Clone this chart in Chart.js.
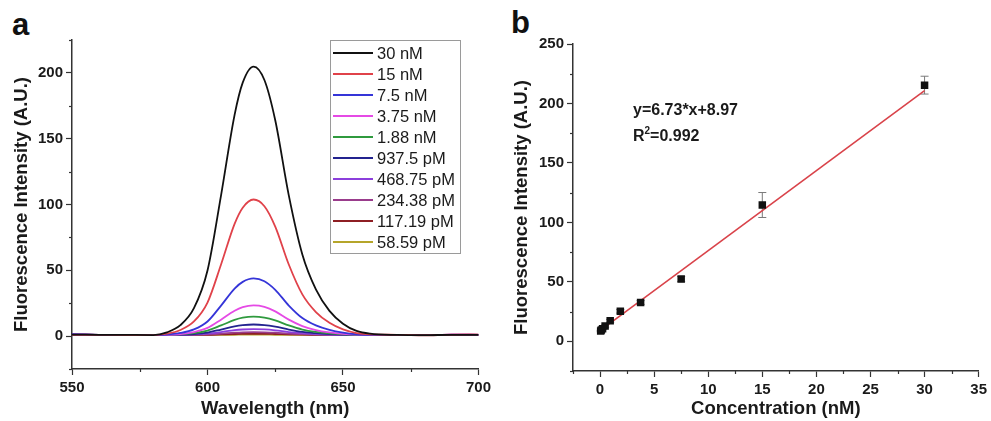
<!DOCTYPE html>
<html>
<head>
<meta charset="utf-8">
<script src="https://cdn.jsdelivr.net/npm/chart.js@4.4.0/dist/chart.umd.min.js"></script>
<style>
  body { margin: 0; background: #fff; width: 991px; height: 421px; position: relative; overflow: hidden;
         font-family: "Liberation Sans", Arial, sans-serif; }
  canvas { position: absolute; top: 0; }
  #chartA { left: 0; }
  #chartB { left: 495px; }
  .panel { position: absolute; font-weight: bold; font-size: 31px; line-height: 31px; color: #111; }
</style>
</head>
<body>
<div class="panel" style="left:12px;top:9px">a</div>
<div class="panel" style="left:511px;top:7px">b</div>
<canvas id="chartA" width="495" height="421"></canvas>
<canvas id="chartB" width="496" height="421"></canvas>
<script>
// ---- panel a: emission spectra ----
var wavelengths = [550, 560, 570, 580, 585, 590, 595, 600, 605, 610, 613, 617, 621, 625, 630, 635, 640, 645, 650, 655, 660, 670, 680, 690, 700];
var spec30nM   = [1.1, 1.0, 0.9, 0.8, 2.8, 8.3, 21.2, 49.8, 106.9, 168.1, 192.6, 204.8, 194.6, 164.0, 106.9, 62.0, 35.5, 19.2, 9.4, 3.9, 1.8, 0.9, 0.7, 1.0, 1.0];
var spec15nM   = [1.0, 0.9, 0.8, 0.8, 1.8, 4.6, 11.1, 25.5, 54.4, 85.3, 97.6, 103.8, 98.7, 83.2, 54.4, 31.7, 18.3, 10.1, 5.1, 2.3, 1.3, 1.0, 0.7, 1.0, 1.1];
var spec7_5nM  = [1.2, 1.0, 0.9, 0.8, 1.2, 2.4, 5.1, 11.1, 23.2, 36.1, 41.2, 43.8, 41.7, 35.2, 23.2, 13.7, 8.1, 4.7, 2.6, 1.4, 1.0, 0.8, 0.8, 1.0, 0.9];
var spec3_75nM = [1.1, 0.9, 0.9, 0.8, 1.0, 1.6, 3.1, 6.2, 12.5, 19.3, 22.0, 23.3, 22.2, 18.8, 12.5, 7.6, 4.6, 2.8, 1.7, 1.1, 0.9, 1.0, 0.7, 1.1, 1.0];
var spec1_88nM = [1.0, 0.9, 1.0, 0.8, 0.9, 1.3, 2.2, 4.2, 8.1, 12.3, 14.0, 14.8, 14.1, 12.0, 8.1, 5.0, 3.2, 2.1, 1.4, 1.0, 0.9, 0.9, 0.7, 1.0, 0.9];
var spec937pM  = [1.1, 1.0, 0.9, 0.8, 0.9, 1.1, 1.6, 2.7, 5.0, 7.4, 8.3, 8.8, 8.4, 7.2, 5.0, 3.2, 2.2, 1.5, 1.1, 0.9, 0.8, 0.8, 0.7, 1.0, 1.0];
var spec468pM  = [1.1, 0.9, 1.0, 0.8, 0.8, 1.0, 1.3, 1.9, 3.1, 4.5, 5.0, 5.3, 5.1, 4.4, 3.1, 2.2, 1.6, 1.2, 1.0, 0.9, 0.8, 0.9, 0.7, 1.0, 1.0];
var spec234pM  = [1.2, 1.0, 0.9, 0.8, 0.8, 0.9, 1.0, 1.3, 1.9, 2.6, 2.9, 3.0, 2.9, 2.6, 1.9, 1.5, 1.2, 1.0, 0.9, 0.8, 0.8, 1.0, 0.7, 1.1, 1.1];
var spec117pM  = [1.1, 1.0, 0.9, 0.8, 0.8, 0.8, 0.9, 1.0, 1.3, 1.6, 1.7, 1.8, 1.8, 1.6, 1.3, 1.1, 1.0, 0.9, 0.8, 0.8, 0.8, 0.9, 0.6, 1.1, 1.0];
var spec58pM   = [1.1, 0.9, 1.0, 0.8, 0.8, 0.8, 0.8, 0.9, 1.0, 1.0, 1.1, 1.1, 1.1, 1.0, 1.0, 0.9, 0.8, 0.8, 0.8, 0.8, 0.8, 1.0, 0.7, 1.0, 1.0];

var seriesLabels = ['30 nM', '15 nM', '7.5 nM', '3.75 nM', '1.88 nM', '937.5 pM', '468.75 pM', '234.38 pM', '117.19 pM', '58.59 pM'];
var seriesValues = [spec30nM, spec15nM, spec7_5nM, spec3_75nM, spec1_88nM, spec937pM, spec468pM, spec234pM, spec117pM, spec58pM];
var seriesColors = ['#111111', '#e0424a', '#3535d8', '#e54ae5', '#2f9a3e', '#23238f', '#8c3fdc', '#9a3c8c', '#8e1f24', '#b5a52a'];

var xTicksA = [550, 600, 650, 700];
var yTicksA = [0, 50, 100, 150, 200];

// ---- panel b: calibration ----
var concentrations = [0.0586, 0.117, 0.234, 0.469, 0.9375, 1.875, 3.75, 7.5, 15, 30];
var intensities    = [8.6, 9.4, 10.6, 12.8, 17.2, 25.2, 32.6, 52.3, 114.6, 215.4];
var intensityErr   = [0.6, 0.7, 0.8, 1.0, 1.2, 1.5, 1.6, 2.2, 10.5, 7.5];
var xTicksB = [0, 5, 10, 15, 20, 25, 30, 35];
var yTicksB = [0, 50, 100, 150, 200, 250];
var fitX = [0, 30];
var fitY = [8.97, 210.87];
var fitText = 'y=6.73*x+8.97';
var r2Text = '=0.992';

Chart.defaults.font.family = '"Liberation Sans", Arial, sans-serif';
Chart.defaults.color = '#1a1a1a';

function axisBase(majors) {
    return {
        type: 'linear',
        majors: majors,
        grid: {
            drawOnChartArea: false, tickLength: 6, tickWidth: 1.2,
            tickColor: function (c) { return majors.indexOf(c.tick.value) >= 0 ? '#333' : 'rgba(0,0,0,0)'; }
        },
        border: { display: true, color: '#333', width: 1.5 },
        ticks: {
            autoSkip: false, maxRotation: 0, font: { size: 15, weight: 'bold' }, color: '#1a1a1a',
            callback: function (v) { return majors.indexOf(v) >= 0 ? v : ''; }
        },
        title: { display: true, font: { size: 18.5, weight: 'bold' }, color: '#1a1a1a' }
    };
}

// short minor ticks between the labelled ones
var minorTicks = {
    id: 'minorTicks',
    afterDraw: function (chart) {
        var ctx = chart.ctx, area = chart.chartArea;
        ctx.save();
        ctx.strokeStyle = '#333';
        ctx.lineWidth = 1.2;
        ['x', 'y'].forEach(function (id) {
            var s = chart.scales[id];
            var majors = s.options.majors;
            s.ticks.forEach(function (t) {
                if (majors.indexOf(t.value) >= 0) return;
                var p = Math.round(s.getPixelForValue(t.value)) + 0.5;
                ctx.beginPath();
                if (id === 'x') { ctx.moveTo(p, area.bottom); ctx.lineTo(p, area.bottom + 3); }
                else { ctx.moveTo(area.left, p); ctx.lineTo(area.left - 3, p); }
                ctx.stroke();
            });
        });
        ctx.restore();
    }
};

// legend drawn inside the plot area, like the original
var boxLegend = {
    id: 'boxLegend',
    afterDraw: function (chart) {
        var ctx = chart.ctx;
        ctx.save();
        ctx.strokeStyle = '#9a9a9a';
        ctx.lineWidth = 1;
        ctx.strokeRect(330.5, 40.5, 130, 213);
        ctx.font = '16.5px "Liberation Sans", Arial, sans-serif';
        ctx.textBaseline = 'middle';
        ctx.fillStyle = '#1a1a1a';
        chart.data.datasets.forEach(function (ds, i) {
            var y = 53 + i * 21;
            ctx.strokeStyle = ds.borderColor;
            ctx.lineWidth = 2;
            ctx.beginPath();
            ctx.moveTo(333, y);
            ctx.lineTo(373, y);
            ctx.stroke();
            ctx.fillText(ds.label, 377, y + 1);
        });
        ctx.restore();
    }
};

var xa = axisBase(xTicksA);
xa.min = 550; xa.max = 700;
xa.ticks.stepSize = 25;
xa.ticks.padding = 4;
xa.title.text = 'Wavelength (nm)';
xa.title.padding = { top: 0, bottom: 1 };
xa.afterFit = function (s) { s.height = 52; };

var ya = axisBase(yTicksA);
ya.min = -25; ya.max = 225;
ya.ticks.stepSize = 25;
ya.ticks.padding = 3;
ya.title.text = 'Fluorescence Intensity (A.U.)';
ya.title.padding = { top: 11, bottom: 0 };
ya.afterFit = function (s) { s.width = 72; };

new Chart(document.getElementById('chartA'), {
    type: 'line',
    data: {
        datasets: seriesLabels.map(function (lab, i) {
            return {
                label: lab,
                data: wavelengths.map(function (w, j) { return { x: w, y: seriesValues[i][j] }; }),
                borderColor: seriesColors[i],
                borderWidth: 1.8,
                pointRadius: 0,
                fill: false,
                cubicInterpolationMode: 'monotone'
            };
        })
    },
    options: {
        responsive: false,
        animation: false,
        devicePixelRatio: 1,
        layout: { padding: { left: 0, top: 40, right: 14, bottom: 0 } },
        plugins: { legend: { display: false }, tooltip: { enabled: false } },
        scales: { x: xa, y: ya }
    },
    plugins: [boxLegend, minorTicks]
});

// error bars + fit equation for panel b
var errorBars = {
    id: 'errorBars',
    beforeDatasetsDraw: function (chart) {
        var ctx = chart.ctx, xs = chart.scales.x, ys = chart.scales.y;
        ctx.save();
        ctx.strokeStyle = '#7a7a7a';
        ctx.lineWidth = 1;
        concentrations.forEach(function (c, i) {
            var px = xs.getPixelForValue(c);
            var top = ys.getPixelForValue(intensities[i] + intensityErr[i]);
            var bot = ys.getPixelForValue(intensities[i] - intensityErr[i]);
            ctx.beginPath();
            ctx.moveTo(px, top); ctx.lineTo(px, bot);
            ctx.moveTo(px - 4, top); ctx.lineTo(px + 4, top);
            ctx.moveTo(px - 4, bot); ctx.lineTo(px + 4, bot);
            ctx.stroke();
        });
        ctx.restore();
    },
    afterDraw: function (chart) {
        var ctx = chart.ctx;
        ctx.save();
        ctx.fillStyle = '#1a1a1a';
        ctx.textBaseline = 'alphabetic';
        ctx.font = 'bold 16px "Liberation Sans", Arial, sans-serif';
        ctx.fillText(fitText, 138, 115);
        ctx.fillText('R', 138, 141);
        var rw = ctx.measureText('R').width;
        ctx.font = 'bold 10px "Liberation Sans", Arial, sans-serif';
        ctx.fillText('2', 138 + rw, 134);
        var sw = ctx.measureText('2').width;
        ctx.font = 'bold 16px "Liberation Sans", Arial, sans-serif';
        ctx.fillText(r2Text, 138 + rw + sw, 141);
        ctx.restore();
    }
};

var xb = axisBase(xTicksB);
xb.min = -2.5; xb.max = 35;
xb.ticks.stepSize = 2.5;
xb.ticks.padding = 4;
xb.title.text = 'Concentration (nM)';
xb.title.padding = { top: 0, bottom: 1 };
xb.afterFit = function (s) { s.height = 50; };

var yb = axisBase(yTicksB);
yb.min = -25; yb.max = 250;
yb.ticks.stepSize = 25;
yb.ticks.padding = 3;
yb.title.text = 'Fluorescence Intensity (A.U.)';
yb.title.padding = { top: 16, bottom: 0 };
yb.afterFit = function (s) { s.width = 78; };

new Chart(document.getElementById('chartB'), {
    type: 'scatter',
    data: {
        datasets: [
            {
                label: 'data',
                data: concentrations.map(function (c, i) { return { x: c, y: intensities[i] }; }),
                backgroundColor: '#111',
                borderColor: '#111',
                pointStyle: 'rect',
                pointRadius: 5.3,
                borderWidth: 0
            },
            {
                type: 'line',
                label: 'fit',
                data: fitX.map(function (x, i) { return { x: x, y: fitY[i] }; }),
                borderColor: '#d9434a',
                borderWidth: 1.6,
                pointRadius: 0,
                fill: false
            }
        ]
    },
    options: {
        responsive: false,
        animation: false,
        devicePixelRatio: 1,
        layout: { padding: { left: 0, top: 44, right: 9, bottom: 0 } },
        plugins: { legend: { display: false }, tooltip: { enabled: false } },
        scales: { x: xb, y: yb }
    },
    plugins: [errorBars, minorTicks]
});
</script>
</body>
</html>
